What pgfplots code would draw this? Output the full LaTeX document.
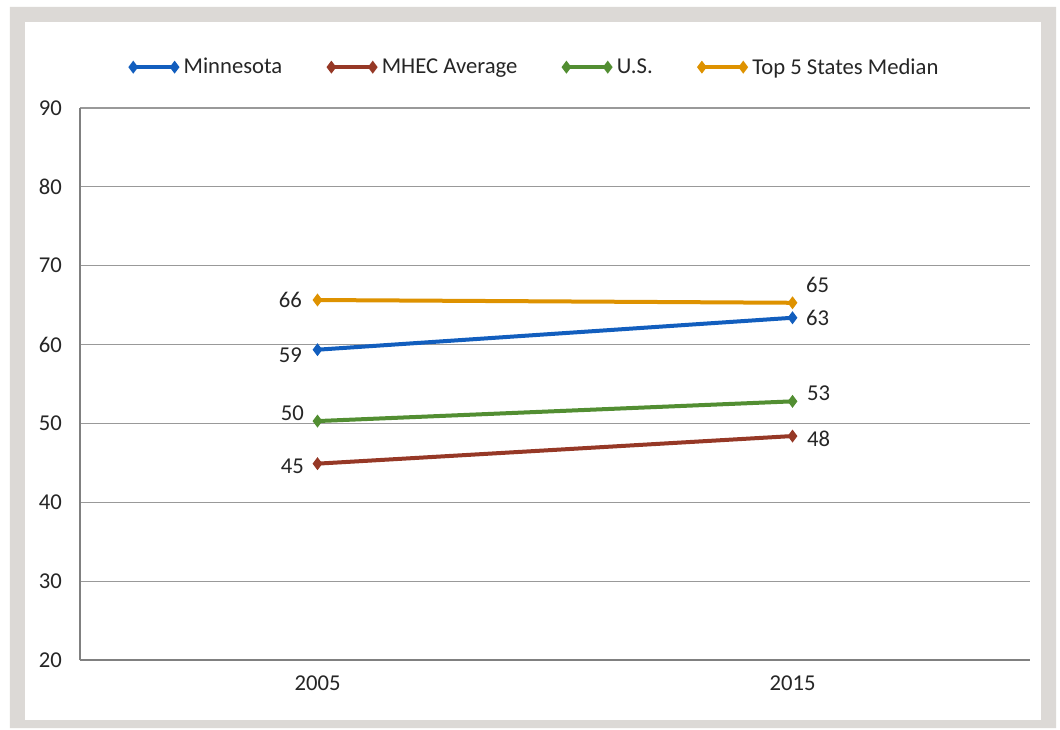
\documentclass[border=0pt]{standalone}
\usepackage{pgfplots}
\pgfplotsset{compat=1.18}
\usepackage{fontspec}
\setmainfont{Carlito}
\definecolor{mnblue}{RGB}{18,94,190}
\definecolor{mhecbrown}{RGB}{150,56,38}
\definecolor{usgreen}{RGB}{82,142,50}
\definecolor{topgold}{RGB}{222,146,0}
\definecolor{framegray}{RGB}{220,217,214}
\definecolor{txt}{RGB}{38,38,38}
\begin{document}
\begin{tikzpicture}[x=0.75pt,y=0.75pt]
% page bounds (px from axis south west: left 80, bottom 660 of a 1060x729 image)
\useasboundingbox (-80,-69) rectangle (980,660);
\fill[white] (-80,-69) rectangle (980,660);
\fill[framegray,even odd rule] (-70,-68) rectangle (976,653) (-55,-60) rectangle (961,638);
\begin{axis}[
    at={(0,0)}, anchor=south west,
    scale only axis, width=712.5pt, height=414pt,
    xmin=-0.5, xmax=1.5, ymin=20, ymax=90,
    xtick={0,1}, xticklabels={2005,2015},
    ytick={20,30,...,90},
    ymajorgrids, grid style={gray!80, line width=0.9pt},
    axis x line*=bottom, axis y line*=left,
    axis line style={gray, line width=0.9pt},
    major tick length=0pt,
    tick label style={font=\fontsize{17}{20}\selectfont, text=txt},
    /pgf/number format/assume math mode=true,
    yticklabel style={xshift=-10pt},
    xticklabel style={yshift=-8pt},
    clip=false,
    every axis plot/.append style={line width=3pt, mark=diamond*, mark size=2.4pt, mark options={solid}},
    legend style={at={(0.48,1.074)}, anchor=center, draw=none, fill=none,
        font=\fontsize{17}{20}\selectfont, text=txt,
        /tikz/every odd column/.append style={column sep=3pt},
        /tikz/every even column/.append style={column sep=33pt}},
    legend columns=4,
    legend cell align=left,
    legend image code/.code={
        \draw[#1,mark=none] (0pt,0pt) -- (31pt,0pt);
        \draw[#1,only marks] plot coordinates {(0pt,0pt) (31pt,0pt)};
    },
]
\addplot[mnblue] coordinates {(0,59.35) (1,63.4)};
\addlegendentry{Minnesota}
\addplot[mhecbrown] coordinates {(0,44.9) (1,48.4)};
\addlegendentry{MHEC Average}
\addplot[usgreen] coordinates {(0,50.3) (1,52.8)};
\addlegendentry{U.S.}
\addplot[topgold] coordinates {(0,65.65) (1,65.3)};
\addlegendentry{Top 5 States Median}

\begin{scope}[every node/.style={font=\fontsize{17}{20}\selectfont, text=txt}]
\node at (axis cs:-0.057,65.65) {66};
\node at (axis cs:-0.057,58.6) {59};
\node at (axis cs:-0.053,51.3) {50};
\node at (axis cs:-0.053,44.6) {45};
\node at (axis cs:1.053,67.6) {65};
\node at (axis cs:1.053,63.4) {63};
\node at (axis cs:1.055,53.8) {53};
\node at (axis cs:1.055,48.0) {48};
\end{scope}
\end{axis}
\end{tikzpicture}
\end{document}
